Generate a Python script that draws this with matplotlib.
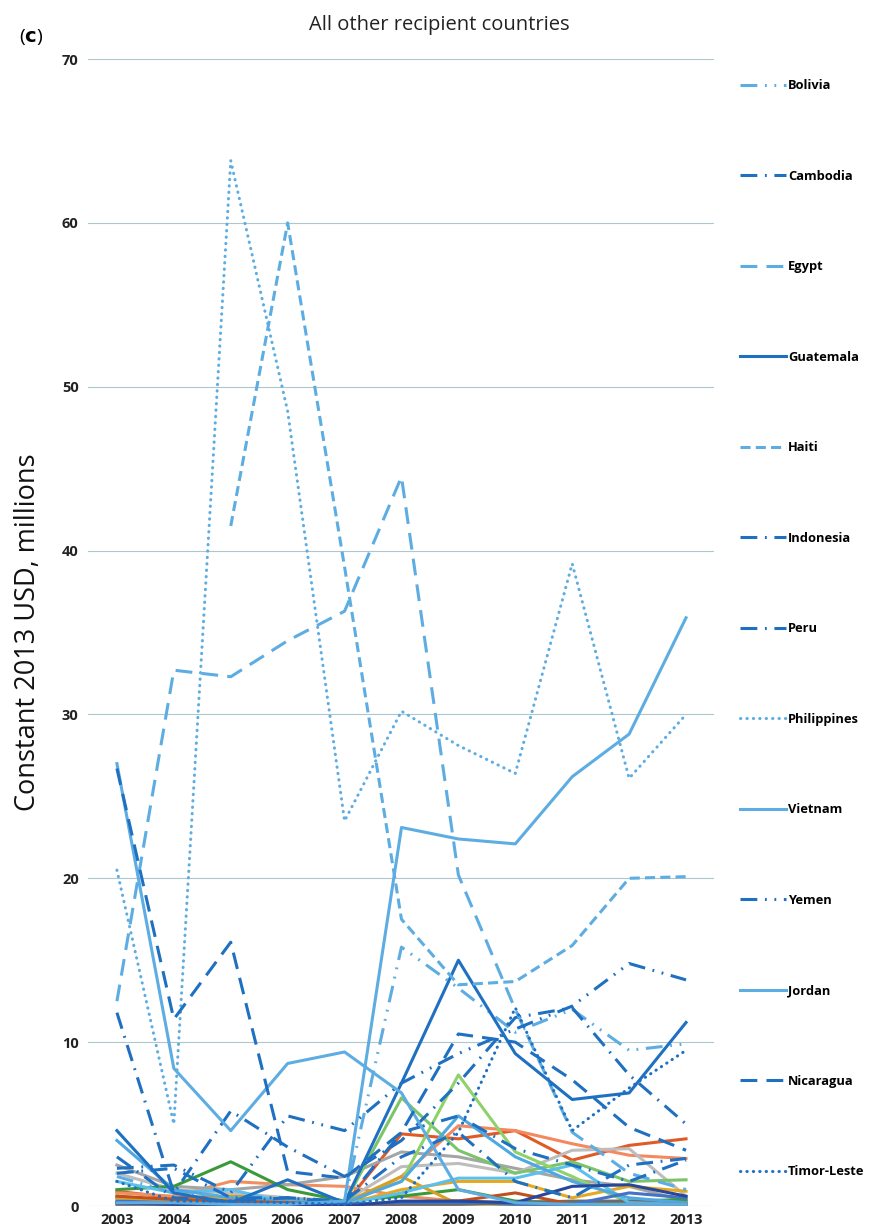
import matplotlib
matplotlib.use('Agg')
import matplotlib.pyplot as plt

OUT_FILE = 'out.png'

years = [2003, 2004, 2005, 2006, 2007, 2008, 2009, 2010, 2011, 2012, 2013]

# named series (shown in legend), USD millions
bolivia = [1.8, 0.8, 0.6, 0.4, 0.3, 15.8, 13.3, 10.6, 12.0, 9.5, 9.9]
cambodia = [11.8, 0.8, 5.8, 3.6, 1.8, 4.0, 7.5, 11.5, 12.1, 8.0, 5.0]
egypt = [12.5, 32.7, 32.3, 34.5, 36.3, 44.5, 20.2, 12.0, 4.5, 2.0, 1.0]
guatemala = [4.6, 0.8, 0.2, 1.6, 0.2, 7.5, 15.0, 9.3, 6.5, 6.9, 11.2]
haiti = [None, None, 41.5, 60.0, 39.0, 17.5, 13.5, 13.7, 15.9, 20.0, 20.1]
indonesia = [3.0, 0.5, 0.3, 0.5, 0.2, 4.5, 5.5, 3.5, 2.5, 1.5, 2.8]
peru = [2.0, 2.3, 0.5, 0.5, 0.3, 3.0, 4.5, 1.5, 0.5, 2.5, 2.9]
philippines = [20.5, 5.0, 63.8, 48.5, 23.5, 30.2, 28.1, 26.4, 39.2, 26.1, 30.0]
vietnam = [0.2, 0.2, 0.1, 0.1, 0.3, 23.1, 22.4, 22.1, 26.2, 28.8, 35.9]
yemen = [2.3, 2.5, 0.8, 5.5, 4.6, 7.5, 9.3, 10.8, 12.2, 14.8, 13.8]
jordan = [27.0, 8.4, 4.6, 8.7, 9.4, 6.9, 1.0, 0.2, 0.1, 0.1, 0.1]
nicaragua = [26.7, 11.4, 16.1, 2.1, 1.7, 4.5, 10.5, 10.0, 7.7, 4.8, 3.4]
timor_leste = [1.5, 0.3, 0.3, 0.2, 0.1, 0.5, 4.5, 12.1, 4.6, 7.2, 9.5]

named_labels = ['Bolivia', 'Cambodia', 'Egypt', 'Guatemala', 'Haiti', 'Indonesia', 'Peru',
                'Philippines', 'Vietnam', 'Yemen', 'Jordan', 'Nicaragua', 'Timor-Leste']
named_values = [bolivia, cambodia, egypt, guatemala, haiti, indonesia, peru,
                philippines, vietnam, yemen, jordan, nicaragua, timor_leste]

# remaining recipients (not in the visible legend)
other_values = [
    [0.9, 0.5, 0.6, 0.5, 0.1, 4.4, 4.1, 4.6, 2.8, 3.7, 4.1],
    [0.8, 0.6, 1.5, 1.3, 1.2, 0.6, 0.3, 0.2, 0.1, 0.1, 0.1],
    [0.5, 0.3, 0.4, 0.3, 0.0, 1.8, 4.9, 4.6, 3.8, 3.1, 2.9],
    [2.5, 1.2, 1.0, 1.3, 1.8, 3.3, 3.0, 2.3, 1.6, 1.2, 0.3],
    [2.0, 1.0, 0.8, 0.5, 0.3, 2.4, 2.6, 2.0, 3.4, 3.5, 0.6],
    [0.6, 0.3, 0.2, 0.1, 0.2, 6.6, 3.4, 2.0, 2.7, 1.5, 1.6],
    [0.2, 0.1, 0.1, 0.1, 0.3, 1.5, 8.0, 3.3, 1.8, 0.2, 0.1],
    [1.0, 1.2, 2.7, 1.0, 0.3, 0.6, 1.0, 0.3, 0.2, 0.3, 0.4],
    [0.5, 0.3, 0.6, 0.4, 0.2, 1.8, 0.1, 0.1, 0.1, 0.1, 0.1],
    [0.3, 0.2, 0.5, 0.3, 0.1, 1.0, 1.5, 1.5, 0.5, 1.2, 0.9],
    [0.2, 0.1, 0.1, 0.1, 0.0, 0.1, 0.1, 0.1, 0.1, 0.1, 0.1],
    [0.1, 0.1, 0.2, 0.1, 0.0, 0.1, 0.1, 0.2, 0.3, 0.3, 0.2],
    [1.5, 0.8, 1.0, 0.2, 0.1, 0.8, 1.7, 1.7, 2.5, 0.2, 0.1],
    [4.0, 1.0, 0.5, 0.3, 0.2, 1.5, 5.5, 3.0, 1.5, 0.5, 0.2],
    [0.6, 0.4, 0.3, 0.2, 0.1, 0.2, 0.3, 0.8, 0.1, 0.1, 0.1],
    [0.3, 0.2, 0.1, 0.1, 0.1, 0.2, 0.2, 0.1, 0.1, 0.8, 0.5],
    [0.2, 0.1, 0.1, 0.1, 0.0, 0.3, 0.3, 0.2, 1.2, 1.3, 0.6],
]

LIGHT = '#5DADE2'
DARK = '#1F70C1'
DASH_DOT_DOT = (0, (5.5, 2.5, 0.6, 2.5, 0.6, 2.5))
LONG_DASH_DOT = (0, (5.5, 2.5, 0.6, 2.5))
LONG_DASH = (0, (5.5, 3))
DASH = (0, (3.3, 1.7))
DOT = (0, (0.1, 2.0))

named_styles = [
    (LIGHT, DASH_DOT_DOT), (DARK, LONG_DASH_DOT), (LIGHT, LONG_DASH), (DARK, '-'),
    (LIGHT, DASH), (DARK, LONG_DASH_DOT), (DARK, LONG_DASH_DOT), (LIGHT, DOT),
    (LIGHT, '-'), (DARK, DASH_DOT_DOT), (LIGHT, '-'), (DARK, LONG_DASH), (DARK, DOT),
]
other_colors = ['#E15A26', '#F09060', '#F4895F', '#A5A5A5', '#BDBDBD', '#7CC46A', '#8FD16A',
                '#3A9A3A', '#D9A020', '#E6A820', '#FFC000', '#6B6B6B', '#5BC0EB', '#4FA8E0',
                '#C0501E', '#4472C4', '#26479A']

LW = 2.2

fig = plt.figure(figsize=(8.69, 12.32), dpi=100)
plt.rcParams['font.family'] = ['Open Sans', 'DejaVu Sans']
ax = fig.add_axes([0.1018, 0.0211, 0.7204, 0.931])

for vals, col in zip(other_values, other_colors):
    ax.plot(years, vals, color=col, lw=LW, zorder=2)

handles = []
for vals, lab, (col, ls) in zip(named_values, named_labels, named_styles):
    xs = [y for y, v in zip(years, vals) if v is not None]
    vs = [v for v in vals if v is not None]
    ln, = ax.plot(xs, vs, color=col, lw=LW, linestyle=ls, label=lab, zorder=3)
    if ls == DOT:
        ln.set_dash_capstyle('round')
    handles.append(ln)

ax.set_xlim(2002.5, 2013.5)
ax.set_ylim(0, 70)
ax.set_yticks(range(0, 71, 10))
ax.set_xticks(years)
ax.grid(axis='y', color='#AFC6CC', lw=0.8, zorder=0)
ax.grid(axis='x', visible=False)
for s in ax.spines.values():
    s.set_visible(False)
ax.tick_params(length=0, labelsize=10.5, colors='#222222', pad=7)
for t in ax.get_xticklabels() + ax.get_yticklabels():
    t.set_fontweight('bold')
ax.tick_params(axis='x', pad=5)
ax.set_axisbelow(True)

fig.text(0.032, 0.487, 'Constant 2013 USD, millions', rotation=90, fontsize=19.5,
         ha='center', va='center', color='#111111')
fig.text(0.506, 0.980, 'All other recipient countries', fontsize=14.5, ha='center',
         va='center', color='#222222')
fig.text(0.022, 0.970, r'($\mathbf{c}$)', fontsize=14, ha='left', va='center')

fig.legend(handles, named_labels, loc='upper left', bbox_to_anchor=(0.852, 0.9357),
           frameon=False, handlelength=3.5, handletextpad=0.2,
           labelspacing=6.0, borderpad=0, borderaxespad=0,
           prop={'weight': 'bold', 'size': 9.3})

fig.savefig(OUT_FILE, dpi=100)
